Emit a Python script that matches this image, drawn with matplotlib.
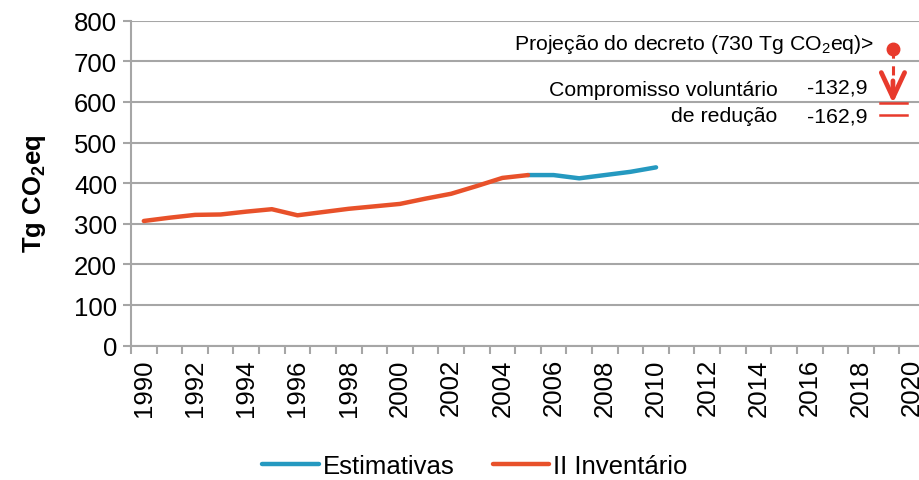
import matplotlib as mpl
import matplotlib.pyplot as plt
from matplotlib.ticker import MultipleLocator, FixedLocator

mpl.rcParams.update({
    "font.family": ["Liberation Sans", "DejaVu Sans"],
    "mathtext.fontset": "custom",
    "mathtext.rm": "Liberation Sans",
    "mathtext.bf": "Liberation Sans:bold",
    "mathtext.default": "regular",
})

# data
years_inv = list(range(1990, 2006))
inventario = [307, 315, 322, 323, 330, 336, 321, 329, 337, 343, 349, 362, 374, 393, 413, 420]
years_est = list(range(2005, 2011))
estimativas = [420, 420, 412, 420, 428, 439]

decreto_year = 2019.25
decreto = 730
reducoes = [132.9, 162.9]
tick_years = list(range(1990, 2021, 2))

BLUE, ORANGE, RED, GRID = "#2599c0", "#e8512a", "#e83a2c", "#a6a6a6"

fig = plt.figure(figsize=(9.2, 4.81), dpi=100)
ax = fig.add_axes([0.1424, 0.2792, 0.8630, 0.6757])
ax.set_xlim(1989.5, 2020.5)
ax.set_ylim(0, 800)

ax.plot(years_est, estimativas, color=BLUE, lw=3.2, solid_capstyle="round", label="Estimativas", zorder=3)
ax.plot(years_inv, inventario, color=ORANGE, lw=3.2, solid_capstyle="round", label="II Inventário", zorder=4)

# grid / axes styling
ax.yaxis.set_major_locator(MultipleLocator(100))
ax.grid(axis="y", color=GRID, lw=1.5)
ax.set_axisbelow(True)
for s in ("top", "right"):
    ax.spines[s].set_visible(False)
for s in ("left", "bottom"):
    ax.spines[s].set_color(GRID)
    ax.spines[s].set_linewidth(1.5)
ax.tick_params(axis="y", colors=GRID, labelcolor="black", labelsize=18.5, length=6, width=1.5, pad=4)
ax.xaxis.set_major_locator(FixedLocator(tick_years))
ax.xaxis.set_minor_locator(FixedLocator([y + 0.5 for y in range(1989, 2021)]))
ax.tick_params(axis="x", which="major", length=0, labelsize=18.5, labelrotation=90, pad=9)
ax.tick_params(axis="x", which="minor", length=6, width=1.5, color=GRID)
ax.set_ylabel("Tg CO$_\\mathbf{2}$eq", fontsize=18.5, fontweight="bold")
ax.yaxis.set_label_coords(-0.105, 0.47)

# decree projection annotation
ax.plot([decreto_year], [decreto], "o", color=RED, ms=9, zorder=5, clip_on=False)
ax.plot([decreto_year, decreto_year], [decreto, 655], color=RED, lw=2.2, ls=(0, (3, 2.5)), clip_on=False)
ax.annotate("", xy=(decreto_year, decreto - reducoes[0]), xytext=(decreto_year, 652),
            arrowprops=dict(arrowstyle="->,head_length=0.6,head_width=0.28", color=RED, lw=3.4,
                            mutation_scale=30, shrinkA=0, shrinkB=0))
for r in reducoes:
    ax.plot([decreto_year - 0.5, decreto_year + 0.55], [decreto - r] * 2, color=RED, lw=1.8, clip_on=False)

fs = 15.3
ax.text(2018.5, 743, "Projeção do decreto (730 Tg CO$_2$eq)>", ha="right", va="center", fontsize=fs)
ax.text(2014.75, 630, "Compromisso voluntário", ha="right", va="center", fontsize=fs)
ax.text(2014.75, 566, "de redução", ha="right", va="center", fontsize=fs)
ax.text(2018.25, 637, "-" + f"{reducoes[0]:.1f}".replace(".", ","), ha="right", va="center", fontsize=fs)
ax.text(2018.25, 566, "-" + f"{reducoes[1]:.1f}".replace(".", ","), ha="right", va="center", fontsize=fs)

fig.legend(loc="center", bbox_to_anchor=(0.516, 0.029), ncol=2, frameon=False, fontsize=18.5,
           handlelength=2.2, handletextpad=0.15, columnspacing=1.5, borderpad=0)

fig.savefig("out.png", dpi=100)
